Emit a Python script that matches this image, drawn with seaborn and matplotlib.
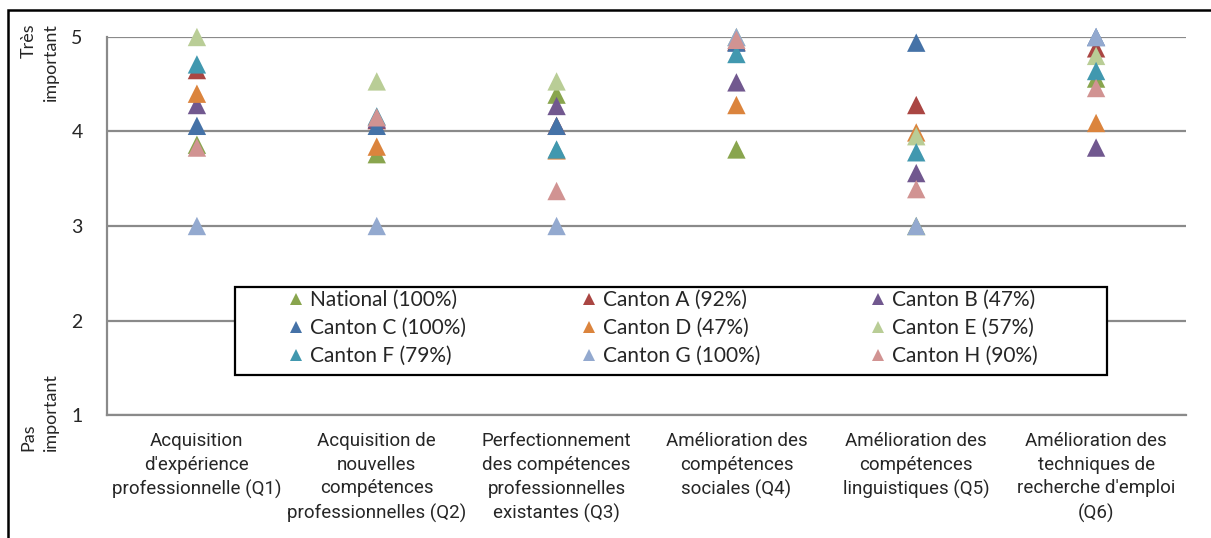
import numpy as np
import pandas as pd
import matplotlib
matplotlib.use("Agg")
import matplotlib.pyplot as plt
from matplotlib.lines import Line2D
from matplotlib.patches import Rectangle
import seaborn as sns

categories = [
    "Acquisition\nd'expérience\nprofessionnelle (Q1)",
    "Acquisition de\nnouvelles\ncompétences\nprofessionnelles (Q2)",
    "Perfectionnement\ndes compétences\nprofessionnelles\nexistantes (Q3)",
    "Amélioration des\ncompétences\nsociales (Q4)",
    "Amélioration des\ncompétences\nlinguistiques (Q5)",
    "Amélioration des\ntechniques de\nrecherche d'emploi\n(Q6)",
]
series_names = ["National (100%)", "Canton A (92%)", "Canton B (47%)", "Canton C (100%)",
                "Canton D (47%)", "Canton E (57%)", "Canton F (79%)", "Canton G (100%)",
                "Canton H (90%)"]
national = [3.86, 3.76, 4.39, 3.81, 3.00, 4.56]
canton_a = [4.65, 4.12, 4.06, 4.95, 4.28, 4.88]
canton_b = [4.28, 4.13, 4.27, 4.52, 3.56, 3.83]
canton_c = [4.06, 4.06, 4.06, 4.94, 4.94, 5.00]
canton_d = [4.40, 3.84, 3.80, 4.28, 3.99, 4.09]
canton_e = [5.00, 4.53, 4.53, 5.00, 3.95, 4.80]
canton_f = [4.71, 4.16, 3.81, 4.82, 3.78, 4.64]
canton_g = [3.00, 3.00, 3.00, 5.00, 3.00, 5.00]
canton_h = [3.83, 4.15, 3.37, 4.97, 3.39, 4.46]
colors = ["#89A54E", "#AA4643", "#71588F", "#4572A7", "#DB843D",
          "#B9CD96", "#4198AF", "#93A9CF", "#D19392"]
y_ticks = [1, 2, 3, 4, 5]

all_values = [national, canton_a, canton_b, canton_c, canton_d,
              canton_e, canton_f, canton_g, canton_h]
rows = []
for name, vals in zip(series_names, all_values):
    for i, v in enumerate(vals):
        rows.append({"serie": name, "pos": i, "score": v})
df = pd.DataFrame(rows)
palette = dict(zip(series_names, colors))

sns.set_style("white")
plt.rcParams["font.family"] = ["Lato", "DejaVu Sans"]

W, H = 1211, 538
fig = plt.figure(figsize=(W / 100, H / 100), dpi=100)
ax_l, ax_r, ax_t, ax_b = 107, 1186, 37, 415
ax = fig.add_axes([ax_l / W, 1 - ax_b / H, (ax_r - ax_l) / W, (ax_b - ax_t) / H])

sns.scatterplot(data=df, x="pos", y="score", hue="serie", palette=palette,
                marker="^", s=175, linewidth=0, legend=False, ax=ax,
                clip_on=False, zorder=5)

ax.set_xlim(-0.5, len(categories) - 0.5)
ax.set_ylim(1, 5)
ax.set_yticks(y_ticks)
ax.set_yticklabels([str(t) for t in y_ticks])
ax.set_xticks(range(len(categories)))
ax.set_xticklabels(categories, fontfamily=["Roboto", "DejaVu Sans"],
                   fontsize=13.5, linespacing=1.42)
ax.set_xticks(np.arange(-0.5, len(categories)), minor=True)
ax.set_xlabel("")
ax.set_ylabel("")

grid_col = "#8A8A8A"
ax.grid(axis="y", color=grid_col, linewidth=1.6, zorder=0)
ax.set_axisbelow(True)
for s in ["top", "right"]:
    ax.spines[s].set_visible(False)
for s in ["left", "bottom"]:
    ax.spines[s].set_color(grid_col)
    ax.spines[s].set_linewidth(1.6)
ax.tick_params(axis="x", which="major", length=0, pad=12)
ax.tick_params(axis="x", which="minor", length=5.5, width=1.4, color=grid_col, direction="out")
ax.tick_params(axis="y", which="major", length=6.5, width=1.4, color=grid_col,
               direction="out", pad=11, labelsize=14)

# Y axis descriptors
fig.text(40 / W, 1 - 23 / H, "Très\nimportant", rotation=90, ha="center", va="top",
         multialignment="right", fontsize=13, linespacing=1.5)
fig.text(40 / W, 1 - 451 / H, "Pas\nimportant", rotation=90, ha="center", va="bottom",
         multialignment="left", fontsize=13, linespacing=1.5)

# Legend frame
lx0, lx1, ly0, ly1 = 235, 1107, 287, 375
rect = Rectangle((lx0 / W, 1 - ly1 / H), (lx1 - lx0) / W, (ly1 - ly0) / H,
                 transform=fig.transFigure, facecolor="white", edgecolor="black",
                 linewidth=1.6, zorder=10)
fig.patches.append(rect)

col_x = [288, 581, 870]
order = [[0, 3, 6], [1, 4, 7], [2, 5, 8]]
for cx, idxs in zip(col_x, order):
    handles = [Line2D([], [], marker="^", linestyle="none", color=colors[i],
                      markersize=9, markeredgewidth=0) for i in idxs]
    labels = [series_names[i] for i in idxs]
    leg = fig.legend(handles, labels, loc="upper left",
                     bbox_to_anchor=(cx / W, 1 - 290 / H), bbox_transform=fig.transFigure,
                     frameon=False, fontsize=15, handlelength=0.75, handletextpad=0.3,
                     labelspacing=0.38, borderpad=0, borderaxespad=0)
    leg.set_zorder(11)

# Outer frame
frame = Rectangle((8 / W, -0.05), 1.2, (1 - 10 / H) + 0.05, transform=fig.transFigure,
                  facecolor="none", edgecolor="black", linewidth=1.8, zorder=20)
fig.patches.append(frame)

fig.savefig("out.png", dpi=100)
